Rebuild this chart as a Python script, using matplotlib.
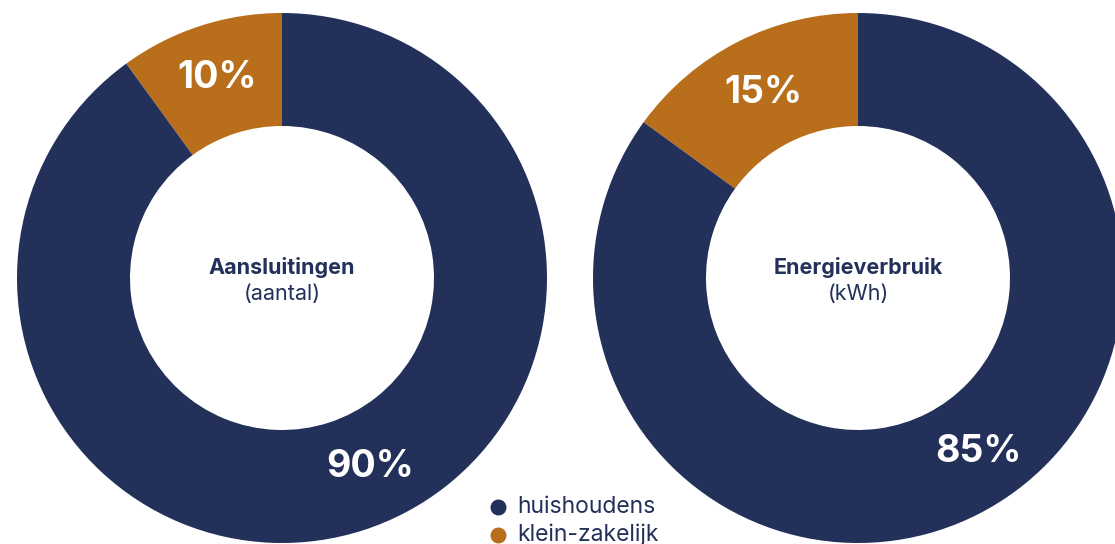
import matplotlib.pyplot as plt

plt.rcParams['font.family'] = ['Inter', 'DejaVu Sans']

navy = '#22305a'
orange = '#b86e1a'

series = ['klein-zakelijk', 'huishoudens']
aansluitingen = [10, 90]
energie = [15, 85]
titels = ['Aansluitingen', 'Energieverbruik']
eenheden = ['(aantal)', '(kWh)']

fig = plt.figure(figsize=(11.15, 5.44), dpi=100)
ax = fig.add_axes([0, 0, 1, 1])

centers = [(282, 266), (858, 266)]
R = 265
lab_pos = [[(217, 466), (370, 77)], [(763, 451), (978, 92)]]

for waarden, c, titel, eenheid, lp in zip([aansluitingen, energie], centers, titels, eenheden, lab_pos):
    ax.pie(waarden, colors=[orange, navy], startangle=90, counterclock=True,
           center=c, radius=R, wedgeprops=dict(width=113, edgecolor='none'),
           frame=True)
    for v, (x, y) in zip(waarden, lp):
        ax.text(x, y, f'{v}%', color='white', fontsize=27, fontweight='bold',
                ha='center', va='center')
    ax.text(c[0], 277, titel, color=navy, fontsize=15.5, fontweight='bold',
            ha='center', va='center')
    ax.text(c[0], 250, eenheid, color=navy, fontsize=15.5, ha='center', va='center')

ax.set_xlim(0, 1115)
ax.set_ylim(0, 544)
ax.set_aspect('equal')
ax.axis('off')

# legenda
for i, (naam, kleur) in enumerate(zip(['huishoudens', 'klein-zakelijk'], [navy, orange])):
    y = 37 - i * 28
    ax.scatter([498], [y], s=110, color=kleur, zorder=3)
    ax.text(517, y, naam, color=navy, fontsize=16.5, ha='left', va='center')

fig.savefig('out.png', dpi=100)
